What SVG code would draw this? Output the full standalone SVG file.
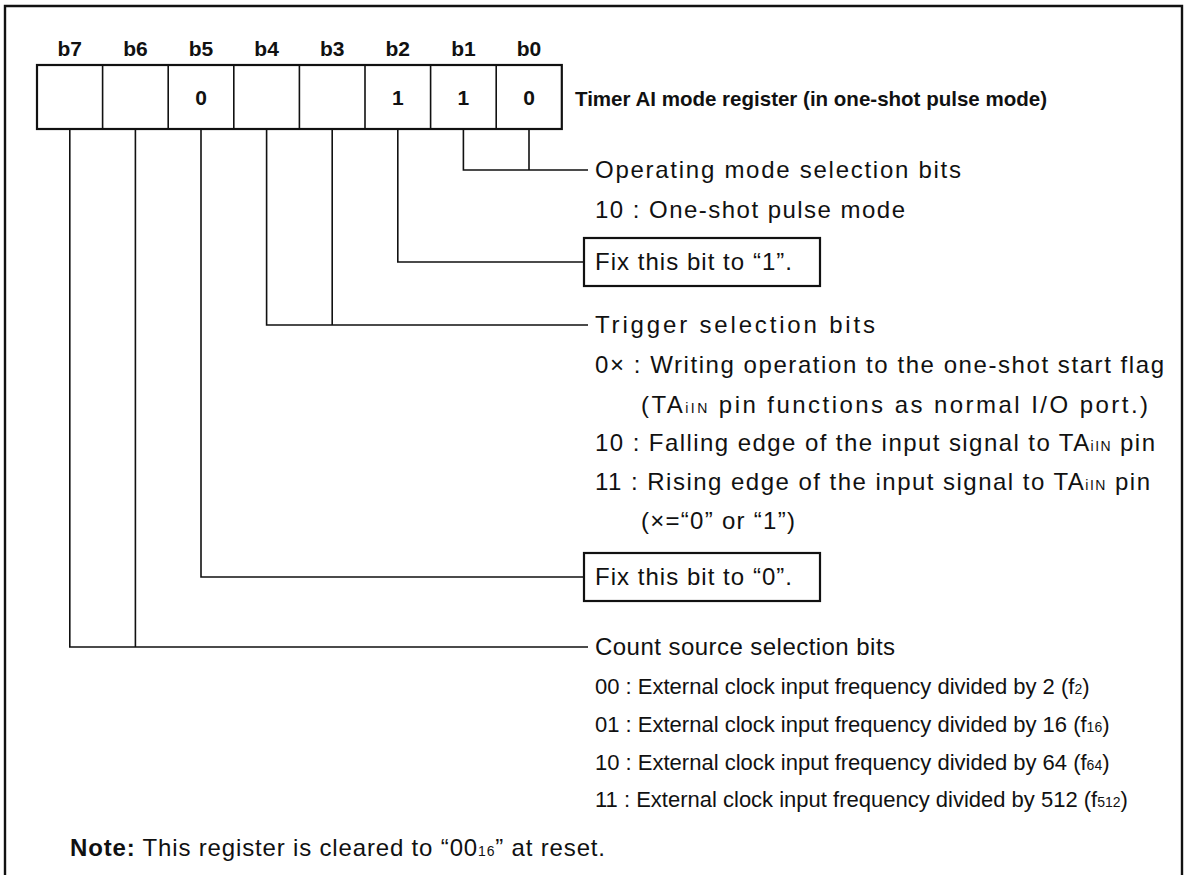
<svg xmlns="http://www.w3.org/2000/svg" width="1187" height="875" viewBox="0 0 1187 875">
<style>
.t{font-family:"Liberation Sans",Arial,sans-serif;font-size:24px;fill:#111}
.c{font-family:"Liberation Sans",Arial,sans-serif;font-size:22px;fill:#111}
.b{font-family:"Liberation Sans",Arial,sans-serif;font-size:21px;font-weight:bold;fill:#111}
.s{font-size:14px}
.ln{fill:none;stroke:#111;stroke-width:1.6}
.bx{fill:#fff;stroke:#111;stroke-width:2.2}
</style>
<rect width="1187" height="875" fill="#fff"/>
<path d="M5,880 V6 H1182 V880" fill="none" stroke="#111" stroke-width="2.4"/>
<g id="register">
<rect class="bx" x="37" y="65" width="524.8" height="64" stroke-width="2"/>
<path class="ln" stroke-width="1.8" d="M102.6,65V129M168.2,65V129M233.8,65V129M299.4,65V129M365,65V129M430.6,65V129M496.2,65V129"/>
<g class="b" font-size="22" text-anchor="middle">
<text x="69.8" y="56">b7</text><text x="135.4" y="56">b6</text><text x="201" y="56">b5</text><text x="266.6" y="56">b4</text>
<text x="332.2" y="56">b3</text><text x="397.8" y="56">b2</text><text x="463.4" y="56">b1</text><text x="529" y="56">b0</text>
<text x="201" y="105">0</text><text x="397.8" y="105">1</text><text x="463.4" y="105">1</text><text x="529" y="105">0</text>
</g>
<text class="b" x="575" y="106" textLength="472" lengthAdjust="spacingAndGlyphs">Timer AI mode register (in one-shot pulse mode)</text>
</g>
<g id="connectors">
<path class="ln" d="M463.4,129V170H529M529,129V170H588"/>
<path class="ln" d="M397.8,129V262H584"/>
<path class="ln" d="M266.6,129V325H588M332.2,129V325"/>
<path class="ln" d="M201,129V577H584"/>
<path class="ln" d="M69.8,129V647H588M135.4,129V647"/>
</g>
<g id="mode-bits">
<text class="t" x="595" y="178" textLength="366" lengthAdjust="spacing">Operating mode selection bits</text>
<text class="t" x="595" y="218" textLength="310" lengthAdjust="spacing">10 : One-shot pulse mode</text>
</g>
<g id="fix-b2">
<rect class="bx" x="584" y="238" width="236" height="48"/>
<text class="t" x="595" y="270" textLength="197" lengthAdjust="spacing">Fix this bit to “1”.</text>
</g>
<g id="trigger-bits">
<text class="t" x="595" y="333" textLength="280" lengthAdjust="spacing">Trigger selection bits</text>
<text class="t" x="595" y="373" textLength="569" lengthAdjust="spacing">0× : Writing operation to the one-shot start flag</text>
<text class="t" x="641" y="413" textLength="507" lengthAdjust="spacing">(TA<tspan class="s">iIN</tspan> pin functions as normal I/O port.)</text>
<text class="t" x="595" y="451" textLength="560" lengthAdjust="spacing">10 : Falling edge of the input signal to TA<tspan class="s">iIN</tspan> pin</text>
<text class="t" x="595" y="490" textLength="555" lengthAdjust="spacing">11 : Rising edge of the input signal to TA<tspan class="s">iIN</tspan> pin</text>
<text class="t" x="641" y="529" textLength="154" lengthAdjust="spacing">(×=“0” or “1”)</text>
</g>
<g id="fix-b5">
<rect class="bx" x="584" y="553" width="236" height="48"/>
<text class="t" x="595" y="585" textLength="197" lengthAdjust="spacing">Fix this bit to “0”.</text>
</g>
<g id="count-bits">
<text class="t" x="595" y="655" textLength="300" lengthAdjust="spacing">Count source selection bits</text>
<text class="c" x="595" y="694">00 : External clock input frequency divided by 2 (f<tspan class="s">2</tspan>)</text>
<text class="c" x="595" y="732">01 : External clock input frequency divided by 16 (f<tspan class="s">16</tspan>)</text>
<text class="c" x="595" y="770">10 : External clock input frequency divided by 64 (f<tspan class="s">64</tspan>)</text>
<text class="c" x="595" y="807">11 : External clock input frequency divided by 512 (f<tspan class="s">512</tspan>)</text>
</g>
<g id="note">
<text class="t" x="70" y="856" textLength="535" lengthAdjust="spacing"><tspan font-weight="bold">Note:</tspan> This register is cleared to “00<tspan class="s">16</tspan>” at reset.</text>
</g>
</svg>
